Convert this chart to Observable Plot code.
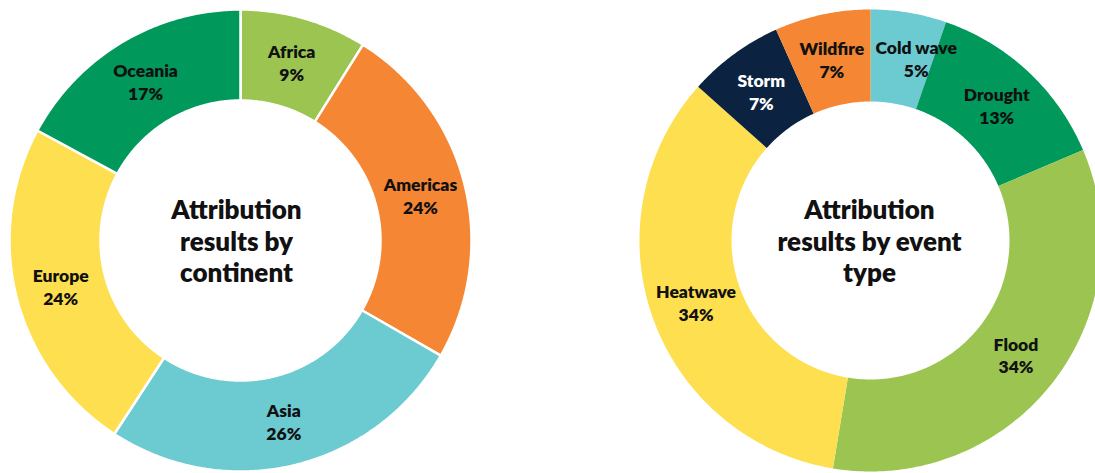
<!DOCTYPE html>
<html>
<head>
<meta charset="utf-8">
<script src="https://cdn.jsdelivr.net/npm/d3@7"></script>
<script src="https://cdn.jsdelivr.net/npm/@observablehq/plot@0.6"></script>
<style>
  html, body { margin: 0; padding: 0; background: #fff; overflow: hidden; }
  #chart svg { display: block; }
</style>
</head>
<body>
<div id="chart"></div>
<script>
// ---- data ----
const continents = ["Africa", "Americas", "Asia", "Europe", "Oceania"];
const continentShares = [8.9, 24.4, 25.9, 23.7, 17.1];
const continentColors = ["#9bc450", "#f48634", "#6ccad1", "#fddf50", "#00985b"];

const eventTypes = ["Cold wave", "Drought", "Flood", "Heatwave", "Storm", "Wildfire"];
const eventShares = [5.3, 13.3, 34.0, 34.0, 6.7, 6.7];
const eventColors = ["#6ccad1", "#00985b", "#9bc450", "#fddf50", "#0b2340", "#f48634"];

const titles = ["Attribution\nresults by\ncontinent", "Attribution\nresults by event\ntype"];

// ---- layout (pixels) ----
const W = 1095, H = 473;
const donuts = [
  {names: continents, shares: continentShares, colors: continentColors, title: titles[0],
   cx: 240, cy: 240, r0: 140, r1: 231, sep: 2.5, titleDx: -4},
  {names: eventTypes, shares: eventShares, colors: eventColors, title: titles[1],
   cx: 870, cy: 240, r0: 139, r1: 231, sep: 0, titleDx: -1}
];
const nudge = {"Cold wave": 15};
const whiteText = new Set(["Storm"]);

// build slice polygons + label anchors
const slicePts = [];
const labels = [];
const centers = [];
for (const d of donuts) {
  const total = d3.sum(d.shares);
  let acc = 0;
  d.names.forEach((name, i) => {
    const a0 = acc / total * 2 * Math.PI;
    acc += d.shares[i];
    const a1 = acc / total * 2 * Math.PI;
    const n = Math.max(8, Math.ceil((a1 - a0) / 0.01));
    const pts = [];
    for (let k = 0; k <= n; k++) {
      const a = a0 + (a1 - a0) * k / n;
      pts.push({name, sep: d.sep, x: d.cx + d.r1 * Math.sin(a), y: d.cy - d.r1 * Math.cos(a)});
    }
    for (let k = n; k >= 0; k--) {
      const a = a0 + (a1 - a0) * k / n;
      pts.push({name, sep: d.sep, x: d.cx + d.r0 * Math.sin(a), y: d.cy - d.r0 * Math.cos(a)});
    }
    slicePts.push(pts);
    const am = (a0 + a1) / 2, rm = (d.r0 + d.r1) / 2;
    labels.push({
      name,
      text: `${name}\n${Math.round(d.shares[i] / total * 100)}%`,
      x: d.cx + rm * Math.sin(am) + (nudge[name] || 0),
      y: d.cy - rm * Math.cos(am)
    });
  });
  centers.push({text: d.title, x: d.cx + d.titleDx, y: d.cy});
}

const font = "Lato, 'Noto Sans', sans-serif";

const marks = [];
for (const pts of slicePts) {
  marks.push(Plot.line(pts, {
    x: "x", y: "y", z: "name", fill: "name", curve: "linear-closed",
    stroke: pts[0].sep ? "white" : "none", strokeWidth: pts[0].sep,
    strokeLinejoin: "miter", clip: true
  }));
}
marks.push(Plot.text(labels, {
  x: "x", y: "y", text: "text", fontSize: 17.5, fontWeight: 800, lineHeight: 1.3,
  fill: d => whiteText.has(d.name) ? "#ffffff" : "#111111", clip: true
}));
marks.push(Plot.text(centers, {
  x: "x", y: "y", text: "text", fontSize: 26, fontWeight: 800, lineHeight: 1.22,
  fill: "#111111"
}));

const chart = Plot.plot({
  width: W, height: H,
  margin: 0,
  style: {fontFamily: font, background: "white"},
  x: {domain: [0, W], range: [0, W], axis: null},
  y: {domain: [0, H], range: [0, H], axis: null},
  color: {
    type: "ordinal",
    domain: [...continents, ...eventTypes],
    range: [...continentColors, ...eventColors]
  },
  marks
});
document.getElementById("chart").appendChild(chart);
</script>
</body>
</html>
